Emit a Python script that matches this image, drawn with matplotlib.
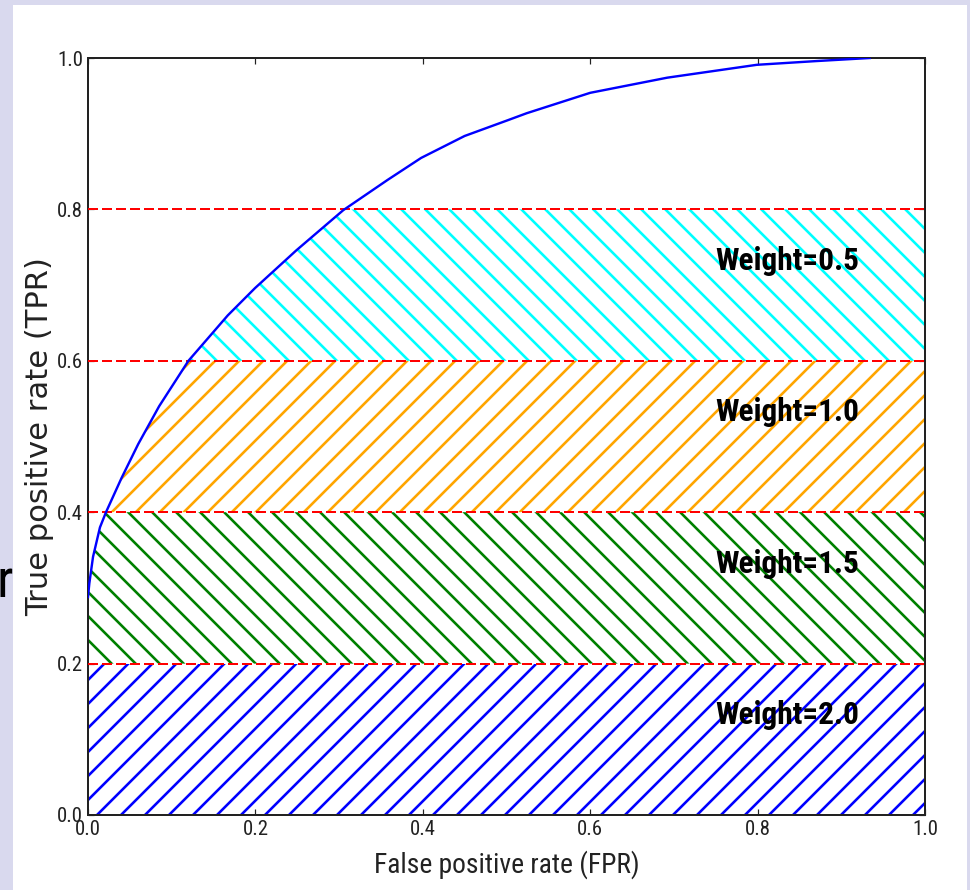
import os
import numpy as np
import matplotlib
matplotlib.use('Agg')
import matplotlib.pyplot as plt
from matplotlib import font_manager as fm
from matplotlib.patches import Rectangle

# ROC curve
fpr = [0.0, 0.0016, 0.006, 0.0143, 0.0215, 0.04, 0.06, 0.085, 0.12, 0.167, 0.1995,
       0.249, 0.305, 0.358, 0.398, 0.45, 0.502, 0.524, 0.60, 0.692, 0.799, 0.871, 0.934]
tpr = [0.288, 0.306, 0.341, 0.380, 0.400, 0.445, 0.490, 0.540, 0.600, 0.660, 0.696,
       0.746, 0.799, 0.839, 0.868, 0.897, 0.918, 0.927, 0.954, 0.974, 0.991, 0.996, 1.0]

# TPR bands and their weights
band_lo = [0.0, 0.2, 0.4, 0.6]
band_hi = [0.2, 0.4, 0.6, 0.8]
band_labels = ['Weight=2.0', 'Weight=1.5', 'Weight=1.0', 'Weight=0.5']
band_colors = ['#0000ff', '#008000', '#ffa500', '#00ffff']
band_hatch = ['//', '\\\\', '//', '\\\\']

ticks = [0.0, 0.2, 0.4, 0.6, 0.8, 1.0]

plt.rcParams['hatch.linewidth'] = 1.3


def narrow_font(bold=False):
    # the reference text is squeezed sideways, so take a narrow face if one exists
    for key in ['LiberationSansNarrow', 'RobotoCondensed', 'DejaVuSansCondensed']:
        for f in fm.fontManager.ttflist:
            base = os.path.basename(f.fname).replace('-', '').replace('_', '')
            if not base.startswith(key):
                continue
            if any(k in base for k in ['Italic', 'Oblique', 'Light', 'Thin', 'Medium', 'Black', 'Semi', 'Extra']):
                continue
            if ('Bold' in base) == bold:
                return fm.FontProperties(fname=f.fname)
    return fm.FontProperties(family='DejaVu Sans', weight='bold' if bold else 'normal')


DPI = 144
W, H = 970, 890
fig = plt.figure(figsize=(W / DPI, H / DPI), dpi=DPI, facecolor='#d9d9ee')
renderer = fig.canvas.get_renderer()


def size_for(s, prop, target_px):
    p = prop.copy()
    p.set_size(10)
    w, h, d = renderer.get_text_width_height_descent(s, p, ismath=False)
    return 10 * target_px / w


f_reg = narrow_font(False)
f_bold = narrow_font(True)
f_ylab = fm.FontProperties(family='DejaVu Sans')

tick_size = size_for('0.2', f_reg, 26)
xlab_size = size_for('False positive rate (FPR)', f_reg, 265)
ylab_size = size_for('True positive rate (TPR)', f_ylab, 360)
wt_size = size_for('Weight=0.5', f_bold, 144)

# stray letter on the left border, partly covered by the white panel
p = f_reg.copy()
p.set_size(tick_size * 2.6)
fig.text(-4 / W, (H - 597) / H, 'r', fontproperties=p, va='baseline', ha='left',
         color='black', zorder=-2)
fig.patches.append(Rectangle((13 / W, 0), 954 / W, (H - 5) / H,
                             transform=fig.transFigure, facecolor='white',
                             edgecolor='none', zorder=-1))

ax = fig.add_axes([88 / W, 75 / H, 837 / W, 757 / H])

for lo, hi, c, h in zip(band_lo, band_hi, band_colors, band_hatch):
    yy = np.linspace(lo, hi, 80)
    xx = np.interp(yy, tpr, fpr)
    ax.fill_betweenx(yy, xx, 1.0, facecolor='none', edgecolor=c, hatch=h,
                     linewidth=0, zorder=2)

for y in band_hi:
    ax.axhline(y, color='#ff0000', lw=1.0, ls=(0, (5, 2)), zorder=3)

ax.plot(fpr, tpr, color='#0000ff', lw=1.2, zorder=4)

for lo, lab in zip(band_lo, band_labels):
    p = f_bold.copy()
    p.set_size(wt_size)
    ax.text(0.75, lo + 0.12, lab, fontproperties=p,
            va='baseline', ha='left', color='black', zorder=5)

ax.set_xlim(0, 1)
ax.set_ylim(0, 1)
ax.set_xticks(ticks)
ax.set_yticks(ticks)
ax.set_xticklabels(['%.1f' % t for t in ticks])
ax.set_yticklabels(['%.1f' % t for t in ticks])
ax.tick_params(direction='in', length=3, width=0.6, top=True, right=True,
               pad=2.5, colors='#222222')
for lab in ax.get_xticklabels() + ax.get_yticklabels():
    p = f_reg.copy()
    p.set_size(tick_size)
    lab.set_fontproperties(p)
for s in ax.spines.values():
    s.set_linewidth(1.0)
    s.set_color('#222222')

p = f_reg.copy()
p.set_size(xlab_size)
ax.set_xlabel('False positive rate (FPR)', fontproperties=p, color='#222222')
ax.xaxis.set_label_coords(0.5, -0.046)
p = f_ylab.copy()
p.set_size(ylab_size)
ax.set_ylabel('True positive rate (TPR)', fontproperties=p, color='#222222')
ax.yaxis.set_label_coords(-0.0406, 0.5)

fig.savefig('out.png', dpi=DPI, facecolor=fig.get_facecolor())
